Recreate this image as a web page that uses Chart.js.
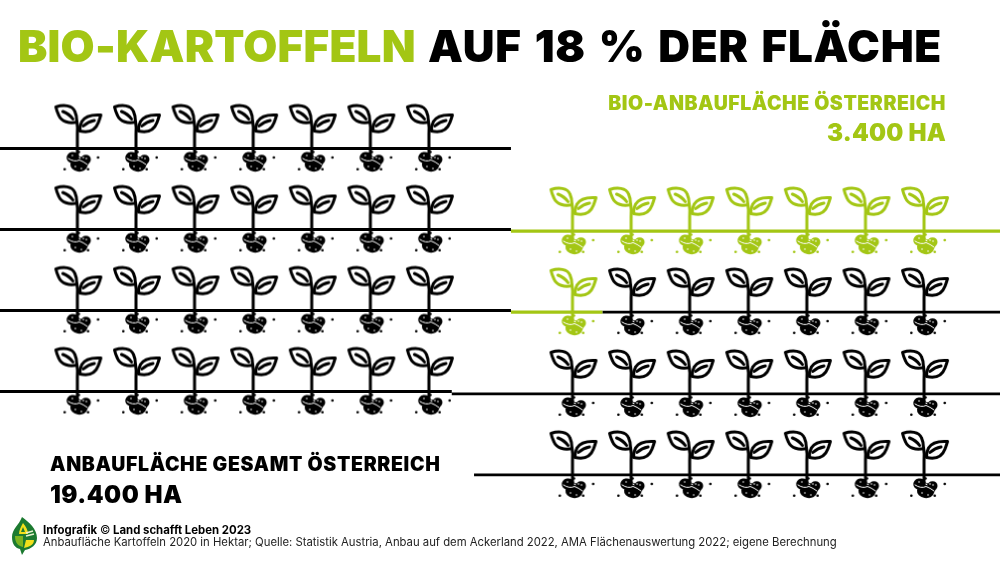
<!DOCTYPE html>
<html lang="de">
<head>
<meta charset="utf-8">
<title>Bio-Kartoffeln</title>
<script src="https://cdn.jsdelivr.net/npm/chart.js@4"></script>
<style>
  html, body { margin: 0; padding: 0; background: #fff; }
  #wrap { position: relative; width: 1000px; height: 571px; overflow: hidden; font-family: Inter, sans-serif; color: #000; }
  #myChart { position: absolute; left: 0; top: 0; }
  .t { position: absolute; white-space: nowrap; line-height: 1; }
  .green { color: #a3c614; }
  #logo { position: absolute; left: 11px; top: 516px; }
</style>
</head>
<body>
<div id="wrap">
  <canvas id="myChart" width="1000" height="571"></canvas>
  <div class="t" id="title" style="left:18px;top:24px;font-size:44px;font-weight:900"><span class="green" style="letter-spacing:0.2px">BIO-KARTOFFELN</span><span style="position:absolute;left:410px;letter-spacing:0.7px;word-spacing:3.5px;white-space:nowrap">AUF 18 % DER FLÄCHE</span></div>
  <div class="t green" id="bioLabel" style="right:54px;top:94px;font-size:19.5px;font-weight:900;letter-spacing:0.55px">BIO-ANBAUFLÄCHE ÖSTERREICH</div>
  <div class="t green" id="bioValue" style="right:54px;top:121px;font-size:24px;font-weight:900;letter-spacing:0.2px">3.400 HA</div>
  <div class="t" id="totalLabel" style="left:50px;top:455px;font-size:19.5px;font-weight:900;letter-spacing:0.65px">ANBAUFLÄCHE GESAMT ÖSTERREICH</div>
  <div class="t" id="totalValue" style="left:50px;top:483px;font-size:24px;font-weight:900;letter-spacing:0.5px">19.400 HA</div>
  <div class="t" id="credit" style="left:43px;top:525px;font-size:11.4px;font-weight:700">Infografik <span style="font-weight:400">©</span> Land schafft Leben 2023</div>
  <div class="t" id="source" style="left:43px;top:537px;font-size:11.3px;font-weight:400;color:#222">Anbaufläche Kartoffeln 2020 in Hektar; Quelle: Statistik Austria, Anbau auf dem Ackerland 2022, AMA Flächenauswertung 2022; eigene Berechnung</div>
  <svg id="logo" width="28" height="40" viewBox="0 0 28 40">
    <path d="M11 1 C18 6 26 13 26 22 C26 29 20 33 14 34 L11 39 L9 33 C4 32 1 28 1 21 C1 13 8 9 11 1Z" fill="#1c7a30"/>
    <path d="M12 7 C15 11 17 14 17 18 L8 18 C8 14 10 11 12 7Z" fill="#f2e01b"/>
    <path d="M12 11 L14 16 L10 16Z" fill="#1c7a30"/>
    <path d="M4 20 L12 20 L12 31 C7 30 4 27 4 20Z" fill="#7db51f"/>
    <path d="M15 24 L23 24 C23 29 18 31 13 32Z" fill="#f2e01b"/>
    <path d="M15 17 L22 15 M15 20 L23 18" stroke="#e8f3d0" stroke-width="1.6"/>
  </svg>
</div>
<script>
const GREEN = '#a3c614';
const BLACK = '#000000';

// one field row = 7 plants, left block and right block
const columns = [0, 1, 2, 3, 4, 5, 6];
const leftRows = [0, 1, 2, 3];
const rightRows = [1.02, 2.02, 3.03, 4.03];
const rightColumnShift = 8.45;
const bioPlantsPerRow = [7, 1, 0, 0];

// ground lines, in column / row units
const lineStart = -1.32;
const lineEnd = 15.75;
const lineSplit = 7.4;
const lastLeftSplit = 6.39;
const bioLineEnd = [15.75, 8.96];
const lastRowStart = 6.77;

function drawPlant(color) {
    const c = document.createElement('canvas');
    c.width = 64;
    c.height = 100;
    const g = c.getContext('2d');
    // origin is where the stem meets the ground, this is the canvas middle
    g.translate(32, 50);
    g.strokeStyle = color;
    g.fillStyle = color;
    g.lineWidth = 3;
    g.lineJoin = 'round';
    g.lineCap = 'round';

    // stem
    g.beginPath();
    g.moveTo(-0.5, -27);
    g.quadraticCurveTo(0.5, -22, 0, -14);
    g.lineTo(0, 8);
    g.stroke();

    // left leaf
    g.beginPath();
    g.moveTo(-21.5, -41.5);
    g.bezierCurveTo(-14, -44, -5, -43.5, -2.5, -37);
    g.bezierCurveTo(-0.5, -33, -0.5, -29, -0.5, -26.5);
    g.bezierCurveTo(-8, -24.5, -16, -27, -18.5, -33);
    g.quadraticCurveTo(-20.5, -37, -21.5, -41.5);
    g.closePath();
    g.stroke();
    g.beginPath();
    g.moveTo(-14.5, -37);
    g.quadraticCurveTo(-8, -34.5, -4.5, -29.5);
    g.stroke();

    // right leaf
    g.beginPath();
    g.moveTo(23.5, -33.5);
    g.bezierCurveTo(16, -34, 8, -33, 4.5, -27);
    g.quadraticCurveTo(2, -22, 2.5, -17.5);
    g.bezierCurveTo(11, -15.5, 18, -18, 21, -26);
    g.quadraticCurveTo(22.5, -30, 23.5, -33.5);
    g.closePath();
    g.stroke();
    g.beginPath();
    g.moveTo(6, -22.5);
    g.quadraticCurveTo(11, -27, 17, -28);
    g.stroke();

    // potatoes
    g.beginPath();
    g.ellipse(-4.5, 9, 6.3, 5.5, -0.2, 0, Math.PI * 2);
    g.ellipse(8.5, 11, 5, 4.8, 0, 0, Math.PI * 2);
    g.ellipse(1.5, 16.5, 8.6, 6.6, 0.15, 0, Math.PI * 2);
    g.fill();

    // small white marks on the potatoes
    g.strokeStyle = '#ffffff';
    g.lineWidth = 1;
    g.beginPath();
    g.moveTo(-9, 10);
    g.quadraticCurveTo(-3, 14, 2, 11.5);
    g.quadraticCurveTo(6, 13, 10, 16);
    g.stroke();
    g.fillStyle = '#ffffff';
    [[-5, 7], [-2, 18], [4, 20], [6, 9], [9, 10]].forEach(m => {
        g.beginPath();
        g.arc(m[0], m[1], 0.8, 0, Math.PI * 2);
        g.fill();
    });

    // soil crumbs
    g.fillStyle = color;
    [[20.7, 9], [-12.7, 20.7], [10.7, 20.7], [1.5, 3.5]].forEach(m => {
        g.beginPath();
        g.arc(m[0], m[1], 1.3, 0, Math.PI * 2);
        g.fill();
    });
    return c;
}

const blackPoints = [];
const greenPoints = [];
leftRows.forEach(row => columns.forEach(col => blackPoints.push({x: col, y: row})));
rightRows.forEach((row, i) => columns.forEach(col => {
    const target = col < bioPlantsPerRow[i] ? greenPoints : blackPoints;
    target.push({x: col + rightColumnShift, y: row});
}));

function groundLine(color, x0, x1, y, width) {
    return {
        type: 'line',
        data: [{x: x0, y: y}, {x: x1, y: y}],
        borderColor: color,
        borderWidth: width || 2.8,
        pointRadius: 0,
        borderCapStyle: 'butt'
    };
}

new Chart(document.getElementById('myChart'), {
    type: 'scatter',
    data: {
        datasets: [
            {data: blackPoints, pointStyle: drawPlant(BLACK), pointRadius: 5},
            {data: greenPoints, pointStyle: drawPlant(GREEN), pointRadius: 5},
            groundLine(BLACK, lineStart, lineSplit, leftRows[0]),
            groundLine(BLACK, lineStart, lineSplit, leftRows[1]),
            groundLine(GREEN, lineSplit, bioLineEnd[0], rightRows[0], 3.2),
            groundLine(BLACK, lineStart, lineSplit, leftRows[2]),
            groundLine(GREEN, lineSplit, bioLineEnd[1], rightRows[1], 3.2),
            groundLine(BLACK, bioLineEnd[1], lineEnd, rightRows[1]),
            groundLine(BLACK, lineStart, lastLeftSplit, leftRows[3]),
            groundLine(BLACK, lastLeftSplit, lineEnd, rightRows[2]),
            groundLine(BLACK, lastRowStart, lineEnd, rightRows[3])
        ]
    },
    options: {
        responsive: false,
        animation: false,
        layout: {padding: 0, autoPadding: false},
        plugins: {legend: {display: false}, tooltip: {enabled: false}},
        scales: {
            x: {type: 'linear', display: false, min: -1.32, max: 15.746},
            y: {type: 'linear', display: false, reverse: true, min: -1.833, max: 5.216}
        }
    }
});
</script>
</body>
</html>
